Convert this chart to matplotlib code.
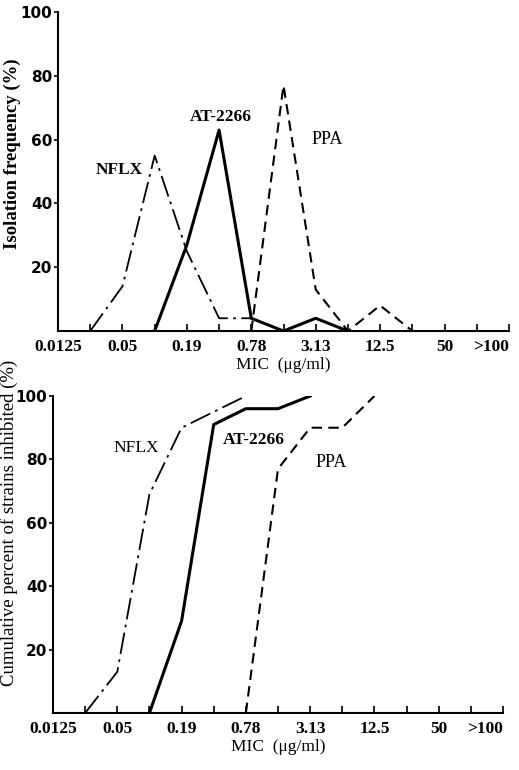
import numpy as np
import matplotlib
matplotlib.use("Agg")
import matplotlib.pyplot as plt

# ---------- Data ----------
# MIC steps (two-fold dilutions), plotted at equal spacing
mic_steps = ["0.0125", "0.025", "0.05", "0.1", "0.19", "0.39", "0.78", "1.56",
             "3.13", "6.25", "12.5", "25", "50", "100", ">100"]
tick_labels = ["0.0125", "0.05", "0.19", "0.78", "3.13", "12.5", "50", ">100"]

# isolation frequency (%) per step index
nflx_freq_idx = [1, 2, 3, 4, 5, 6]
nflx_freq = [0, 14, 55, 25, 4, 4]
at_freq_idx = [3, 4, 5, 6, 7, 8, 9]
at_freq = [0, 27, 63, 4, 0, 4, 0]
ppa_freq_idx = [6, 7, 8, 9, 10, 11]
ppa_freq = [0, 77, 13, 0, 8, 0]

# cumulative percent of strains inhibited
nflx_cum_idx = [1, 2, 3, 4, 5, 6]
nflx_cum = [0, 13, 69, 90, 95, 100]
at_cum_idx = [3, 4, 5, 6, 7, 8]
at_cum = [0, 29, 91, 96, 96, 100]
ppa_cum_idx = [6, 7, 8, 9, 10]
ppa_cum = [0, 77, 90, 90, 100]

serif = "Liberation Serif"

fig = plt.figure(figsize=(5.19, 7.70), dpi=100)
ax1 = fig.add_axes([0.1118, 0.5701, 0.8689, 0.4143])
ax2 = fig.add_axes([0.1021, 0.0740, 0.8671, 0.4117])


def style_axis(ax):
    ax.set_xlim(0, len(mic_steps) - 1)
    ax.set_ylim(0, 100)
    for s in ["top", "right"]:
        ax.spines[s].set_visible(False)
    ax.spines["left"].set_linewidth(1.5)
    ax.spines["bottom"].set_linewidth(1.5)
    ax.set_xticks(range(len(mic_steps)))
    labels = ax.set_xticklabels([m if m in tick_labels else "" for m in mic_steps],
                                family=serif, fontsize=12.5, weight="bold")
    labels[-1].set_horizontalalignment("right")
    ax.tick_params(axis="x", direction="in", length=5, width=1.2, pad=6)
    ax.set_yticks([20, 40, 60, 80, 100])
    ax.set_yticklabels(["20", "40", "60", "80", "100"],
                       family="DejaVu Sans", fontsize=11, weight="bold")
    ax.tick_params(axis="y", direction="out", length=3, width=1.2, pad=1)
    ax.set_xlabel("MIC  (μg/ml)", family=serif, fontsize=12.5, labelpad=1)


# ---------- Top: isolation frequency ----------
ax1.plot(nflx_freq_idx, nflx_freq, color="black", lw=1.3, ls=(0, (12, 3, 1.5, 3)))
ax1.plot(at_freq_idx, at_freq, color="black", lw=2.2, ls="-")
ax1.plot(ppa_freq_idx, ppa_freq, color="black", lw=1.5, ls=(0, (5, 3)))
ax1.text(1.9, 50.5, "NFLX", family=serif, fontsize=12.5, weight="bold", ha="center", va="center")
ax1.text(5.06, 67, "AT-2266", family=serif, fontsize=12.5, weight="bold", ha="center", va="center")
ax1.text(8.35, 60, "PPA", family=serif, fontsize=13, ha="center", va="center")
style_axis(ax1)

# ---------- Bottom: cumulative ----------
ax2.plot(nflx_cum_idx, nflx_cum, color="black", lw=1.3, ls=(0, (12, 3, 1.5, 3)))
ax2.plot(at_cum_idx, at_cum, color="black", lw=2.2, ls="-")
ax2.plot(ppa_cum_idx, ppa_cum, color="black", lw=1.5, ls=(0, (5, 3)))
ax2.text(2.58, 83.5, "NFLX", family=serif, fontsize=12.5, ha="center", va="center")
ax2.text(6.25, 86, "AT-2266", family=serif, fontsize=12.5, weight="bold", ha="center", va="center")
ax2.text(8.65, 79, "PPA", family=serif, fontsize=13, ha="center", va="center")
style_axis(ax2)

# y labels placed as in the original figure
fig.text(0.024, 0.801, "Isolation frequency (%)", family=serif, fontsize=13.5,
         weight="bold", rotation=90, ha="center", va="center")
fig.text(0.018, 0.321, "Cumulative percent of strains inhibited (%)", family=serif,
         fontsize=13.5, rotation=90, ha="center", va="center")

fig.savefig("out.png", dpi=100)
